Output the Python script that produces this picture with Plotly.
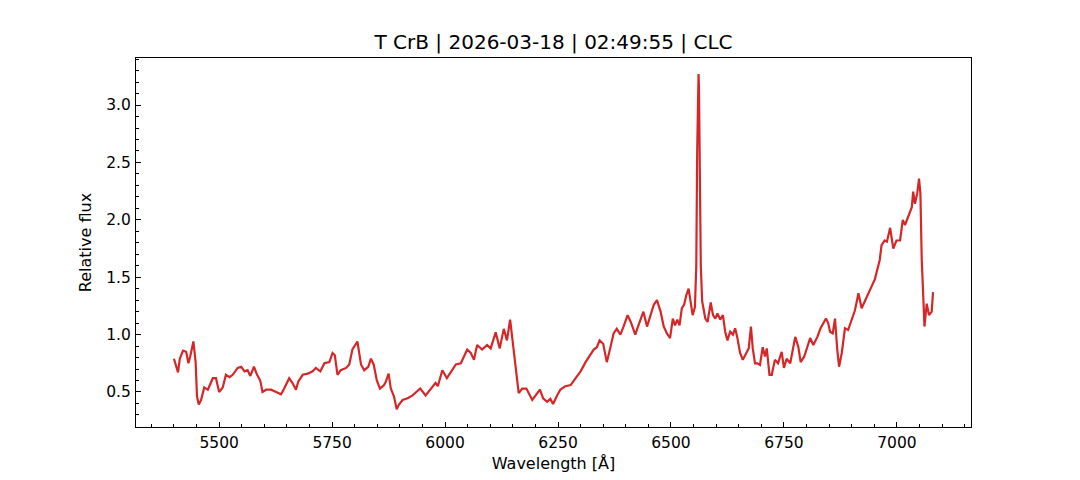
import plotly.graph_objects as go

RED = "#d62728"
FONT = "DejaVu Sans"

TITLE = "T CrB | 2026-03-18 | 02:49:55 | CLC"

wave = [
    5400, 5405, 5409, 5413, 5420, 5427, 5432, 5436, 5443, 5448, 5451, 5455, 5460, 5467, 5475,
    5486, 5493, 5500, 5508, 5515, 5523, 5530, 5541, 5549, 5556, 5563, 5569, 5577, 5584, 5591,
    5596, 5604, 5615, 5626, 5637, 5644, 5655, 5662, 5670, 5675, 5685, 5696, 5707, 5714, 5724,
    5733, 5744, 5751, 5756, 5762, 5769, 5781, 5788, 5795, 5806, 5814, 5821, 5830, 5836, 5842,
    5849, 5856, 5865, 5869, 5875, 5880, 5887, 5893, 5898, 5906, 5917, 5928, 5937, 5945, 5957,
    5968, 5979, 5984, 5994, 6004, 6014, 6024, 6035, 6042, 6049, 6057, 6064, 6071, 6082, 6093,
    6101, 6112, 6121, 6130, 6137, 6144, 6151, 6156, 6163, 6171, 6180, 6193, 6200, 6210, 6217,
    6226, 6233, 6239, 6248, 6255, 6266, 6278, 6289, 6300, 6311, 6320, 6329, 6336, 6342, 6350,
    6358, 6366, 6373, 6380, 6388, 6395, 6404, 6411, 6421, 6428, 6439, 6447, 6454, 6462, 6469,
    6477, 6484, 6491, 6498, 6504, 6509, 6514, 6519, 6524, 6529, 6534, 6539, 6544, 6548, 6553,
    6556, 6558, 6560, 6561, 6562, 6564, 6566, 6569, 6576, 6581, 6588, 6593, 6598, 6603, 6609,
    6615, 6620, 6625, 6631, 6637, 6642, 6647, 6653, 6659, 6666, 6672, 6677, 6681, 6686, 6691,
    6697, 6703, 6708, 6712, 6718, 6723, 6730, 6737, 6745, 6750, 6756, 6764, 6775, 6782, 6787,
    6795, 6800, 6808, 6815, 6824, 6831, 6837, 6843, 6848, 6852, 6858, 6863, 6868, 6872, 6878,
    6885, 6892, 6900, 6907, 6915, 6922, 6929, 6936, 6944, 6951, 6959, 6962, 6966, 6973, 6978,
    6985, 6992, 6999, 7007, 7013, 7018, 7025, 7033, 7036, 7040, 7045, 7049, 7052, 7055, 7059,
    7061, 7066, 7071, 7077, 7080,
]

flux = [
    0.79, 0.72, 0.67, 0.79, 0.86, 0.85, 0.75, 0.81, 0.94, 0.76, 0.46, 0.39, 0.43, 0.54, 0.52,
    0.62, 0.62, 0.50, 0.54, 0.65, 0.63, 0.65, 0.71, 0.72, 0.68, 0.69, 0.64, 0.72, 0.65, 0.60,
    0.50, 0.52, 0.52, 0.50, 0.48, 0.53, 0.62, 0.58, 0.52, 0.59, 0.65, 0.66, 0.68, 0.71, 0.68,
    0.75, 0.76, 0.84, 0.82, 0.65, 0.69, 0.71, 0.74, 0.87, 0.94, 0.74, 0.69, 0.72, 0.79, 0.74,
    0.60, 0.53, 0.56, 0.59, 0.66, 0.53, 0.46, 0.35, 0.39, 0.43, 0.445, 0.47, 0.50, 0.53, 0.47,
    0.53, 0.58, 0.55, 0.69, 0.62, 0.68, 0.74, 0.75, 0.81, 0.87, 0.84, 0.78, 0.91, 0.87, 0.91,
    0.88, 1.02, 0.88, 1.05, 0.95, 1.13, 0.89, 0.76, 0.49, 0.53, 0.53, 0.43, 0.47, 0.52, 0.445,
    0.415, 0.44, 0.395, 0.47, 0.52, 0.55, 0.56, 0.62, 0.68, 0.76, 0.81, 0.87, 0.89, 0.95, 0.92,
    0.76, 0.89, 1.01, 1.05, 1.00, 1.07, 1.17, 1.11, 1.00, 1.08, 1.20, 1.07, 1.16, 1.26, 1.30,
    1.20, 1.07, 1.01, 0.97, 1.14, 1.08, 1.13, 1.08, 1.23, 1.26, 1.345, 1.40, 1.27, 1.17, 1.24,
    1.60, 2.60, 3.20, 3.27, 3.15, 2.40, 1.60, 1.29, 1.14, 1.11, 1.28, 1.17, 1.14, 1.185, 1.13,
    1.17, 1.025, 0.95, 1.025, 1.00, 1.055, 0.97, 0.84, 0.78, 0.84, 0.88, 1.07, 0.88, 0.75, 0.75,
    0.735, 0.89, 0.81, 0.88, 0.65, 0.65, 0.78, 0.75, 0.85, 0.71, 0.79, 0.75, 0.98, 0.89, 0.76,
    0.81, 0.87, 0.97, 0.91, 0.98, 1.055, 1.10, 1.14, 1.10, 1.025, 1.01, 1.14, 0.87, 0.72, 0.84,
    1.055, 1.04, 1.13, 1.21, 1.36, 1.23, 1.29, 1.345, 1.42, 1.48, 1.59, 1.65, 1.78, 1.82, 1.81,
    1.93, 1.75, 1.82, 1.82, 2.00, 1.955, 2.03, 2.11, 2.245, 2.14, 2.23, 2.36, 2.23, 1.65, 1.27,
    1.07, 1.27, 1.17, 1.20, 1.37,
]

x_ticks = [5500, 5750, 6000, 6250, 6500, 6750, 7000]
y_ticks = [0.5, 1.0, 1.5, 2.0, 2.5, 3.0]

fig = go.Figure(go.Scatter(
    x=wave, y=flux,
    mode="lines",
    line=dict(color=RED, width=2.2),
    showlegend=False,
))

axis_common = dict(
    showgrid=False, zeroline=False, automargin=False,
    showline=True, linecolor="black", linewidth=1, mirror=True,
    ticks="inside", ticklen=5, tickwidth=1, tickcolor="black",
    tickfont=dict(family=FONT, size=15.5, color="black"),
)

# page body adds an 8px margin, so the figure's own margins are 8px smaller
fig.update_layout(
    width=1080, height=480,
    paper_bgcolor="white", plot_bgcolor="white",
    font=dict(family=FONT, color="black"),
    margin=dict(l=128, r=117, t=50, b=61),
    title=dict(
        text=TITLE,
        font=dict(family=FONT, size=20, color="black"),
        x=0.5, xref="paper", xanchor="center",
        y=(480 - 34) / 480, yref="container", yanchor="middle",
    ),
    xaxis=dict(
        **axis_common,
        range=[5316, 7164],
        tickvals=x_ticks,
        ticklabelstandoff=1,
        minor=dict(ticks="inside", dtick=50, ticklen=3, tickcolor="black", tickwidth=1),
        title=dict(text="Wavelength [Å]", font=dict(family=FONT, size=16), standoff=7),
    ),
    yaxis=dict(
        **axis_common,
        range=[0.195, 3.41],
        tickvals=y_ticks,
        tickformat=".1f",
        ticklabelstandoff=1,
        minor=dict(ticks="inside", dtick=0.1, tick0=0, ticklen=3, tickcolor="black", tickwidth=1),
        title=dict(text="Relative flux", font=dict(family=FONT, size=16), standoff=10),
    ),
)

fig.write_html("out.html")
